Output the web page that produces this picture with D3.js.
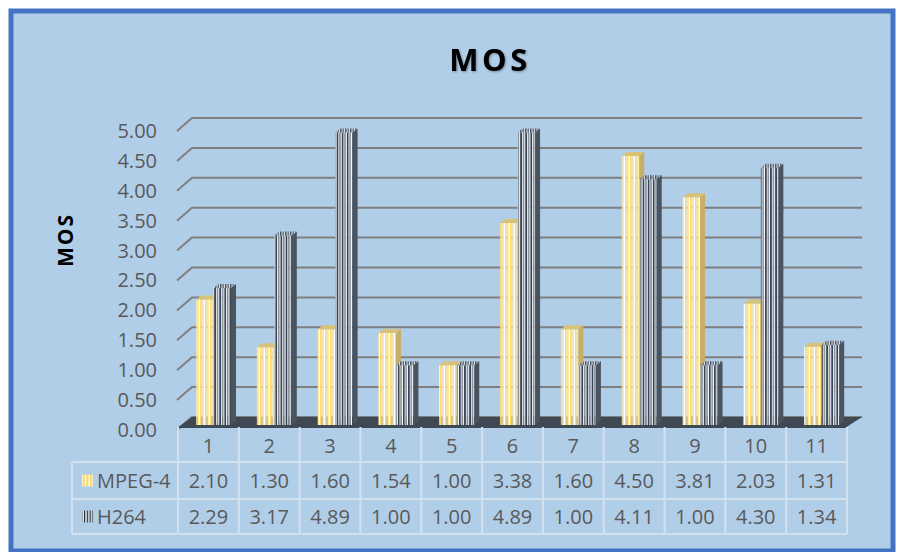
<!DOCTYPE html>
<html>
<head>
<meta charset="utf-8">
<script src="https://cdn.jsdelivr.net/npm/d3@7"></script>
<style>
  body { margin: 0; background: #fff; }
  svg { display: block; }
  text { font-family: "Open Sans", "Liberation Sans", sans-serif; }
</style>
</head>
<body>
<div id="chart"></div>
<script>
var categories = ['1', '2', '3', '4', '5', '6', '7', '8', '9', '10', '11']
var mpeg4 = [2.10, 1.30, 1.60, 1.54, 1.00, 3.38, 1.60, 4.50, 3.81, 2.03, 1.31]
var h264 = [2.29, 3.17, 4.89, 1.00, 1.00, 4.89, 1.00, 4.11, 1.00, 4.30, 1.34]
var yTicks = [0, 0.5, 1, 1.5, 2, 2.5, 3, 3.5, 4, 4.5, 5]
var seriesNames = ['MPEG-4', 'H264']

var W = 898, H = 552
var svg = d3.select('#chart').append('svg').attr('width', W).attr('height', H)
var defs = svg.append('defs')

// striped fills for the bars
function stripes(id, cols, widths) {
  var total = d3.sum(widths)
  var p = defs.append('pattern').attr('id', id)
    .attr('patternUnits', 'userSpaceOnUse').attr('width', total).attr('height', 10)
  var off = 0
  cols.forEach(function(c, i) {
    p.append('rect').attr('x', off).attr('y', 0).attr('width', widths[i]).attr('height', 10).attr('fill', c)
    off += widths[i]
  })
}
stripes('pMpeg', ['#FFDB6E', '#FFF4CC', '#FFE79C', '#FFFFFF'], [1.6, 1, 1.4, 1])
stripes('pH264', ['#394453', '#E9EDF1', '#76818E', '#FFFFFF'], [1.7, 1, 1.4, 1])
stripes('pH264top', ['#4A5462', '#B8C0C8', '#6D7784', '#D5DADF'], [1.6, 1, 1.4, 1])
stripes('pMpegLeg', ['#FFD95E', '#FFF6D8'], [2, 1.6])
stripes('pH264Leg', ['#1E2630', '#E6ECF2'], [1.4, 1.4])

var f = defs.append('filter').attr('id', 'glow').attr('x', '-20%').attr('y', '-20%').attr('width', '140%').attr('height', '140%')
f.append('feDropShadow').attr('dx', 1).attr('dy', 1).attr('stdDeviation', 1.2).attr('flood-color', '#000').attr('flood-opacity', 0.35)

// background + frame
svg.append('rect').attr('x', 11).attr('y', 11).attr('width', 882).attr('height', 540)
  .attr('fill', '#B1CEE9').attr('stroke', '#4472C4').attr('stroke-width', 5)

var x = d3.scaleBand().domain(categories).range([178, 847])
var y = d3.scaleLinear().domain([0, 5]).range([425, 126])
var dx = 5, dy = -4, depthX = 15, depthY = -13
var barW = 17.5

// gridlines on back wall
var grid = svg.append('g')
yTicks.forEach(function(v) {
  var yf = y(v) + 5
  var yb = yf + depthY
  grid.append('path')
    .attr('d', 'M177,' + yf + 'L' + (177 + depthX) + ',' + yb + 'L862,' + yb)
    .attr('fill', 'none').attr('stroke', '#7F7F7F').attr('stroke-width', 2)
})

// floor
var y0f = y(0) + 3
svg.append('path')
  .attr('d', 'M177,' + y0f + 'L' + (177 + depthX) + ',' + (y0f + depthY + 2) + 'L862,' + (y0f + depthY + 2) + 'L845,' + y0f + 'Z')
  .attr('fill', '#3F4954')

// y axis labels
var yAxisScale = d3.scaleLinear().domain([0, 5]).range([y(0) + 5, y(5) + 5])
var yAxis = svg.append('g').attr('transform', 'translate(177,0)')
  .call(d3.axisLeft(yAxisScale).tickValues(yTicks).tickSize(0).tickPadding(20).tickFormat(d3.format('.2f')))
yAxis.select('.domain').remove()
yAxis.selectAll('text').attr('font-size', 20).attr('fill', '#595959')
  .style('font-family', '"Open Sans", sans-serif')

// bars
function bar(g, x0, v, front, top, side) {
  var yt = y(v), yb = y(0)
  g.append('rect').attr('x', x0).attr('y', yt).attr('width', barW).attr('height', yb - yt).attr('fill', front)
  g.append('path')
    .attr('d', 'M' + x0 + ',' + yt + 'l' + dx + ',' + dy + 'l' + barW + ',0l' + (-dx) + ',' + (-dy) + 'Z')
    .attr('fill', top)
  g.append('path')
    .attr('d', 'M' + (x0 + barW) + ',' + yt + 'l' + dx + ',' + dy + 'L' + (x0 + barW + dx) + ',' + (yb + dy) + 'L' + (x0 + barW) + ',' + yb + 'Z')
    .attr('fill', side)
}
var bars = svg.append('g')
categories.forEach(function(c, i) {
  var x0 = x(c) + 18
  var g = bars.append('g')
  bar(g, x0, mpeg4[i], 'url(#pMpeg)', '#D8C27A', '#C7AF68')
  bar(g, x0 + barW, h264[i], 'url(#pH264)', 'url(#pH264top)', '#4A5461')
})

// data table
var rowTop = 427, r1 = 462, r2 = 499, r3 = 534, legL = 72
var tbl = svg.append('g').attr('stroke', '#D3E1EF').attr('stroke-width', 2).attr('fill', 'none')
tbl.append('path').attr('d', 'M' + legL + ',' + r1 + 'L' + x.range()[1] + ',' + r1)
tbl.append('path').attr('d', 'M' + legL + ',' + r2 + 'L' + x.range()[1] + ',' + r2)
tbl.append('path').attr('d', 'M' + legL + ',' + r3 + 'L' + x.range()[1] + ',' + r3)
tbl.append('path').attr('d', 'M' + legL + ',' + r1 + 'L' + legL + ',' + r3)
categories.forEach(function(c) {
  tbl.append('path').attr('d', 'M' + x(c) + ',' + rowTop + 'L' + x(c) + ',' + r3)
})
tbl.append('path').attr('d', 'M' + x.range()[1] + ',' + rowTop + 'L' + x.range()[1] + ',' + r3)

var xAxis = svg.append('g').attr('transform', 'translate(0,' + rowTop + ')')
  .call(d3.axisBottom(x).tickSize(0).tickPadding(12))
xAxis.select('.domain').remove()
xAxis.selectAll('text').attr('font-size', 20).attr('fill', '#595959')
  .style('font-family', '"Open Sans", sans-serif')

var rows = [mpeg4, h264]
var rowMid = [(r1 + r2) / 2, (r2 + r3) / 2]
rows.forEach(function(vals, ri) {
  svg.append('g').selectAll('text').data(vals).join('text')
    .attr('x', function(d, i) { return x(categories[i]) + x.bandwidth() / 2 })
    .attr('y', rowMid[ri])
    .attr('dy', '0.35em')
    .attr('text-anchor', 'middle')
    .attr('font-size', 20).attr('fill', '#595959')
    .text(d3.format('.2f'))
  svg.append('rect').attr('x', 82).attr('y', rowMid[ri] - 6).attr('width', 11).attr('height', 12)
    .attr('fill', ri == 0 ? 'url(#pMpegLeg)' : 'url(#pH264Leg)')
  svg.append('text').attr('x', 97).attr('y', rowMid[ri]).attr('dy', '0.35em')
    .attr('font-size', 20).attr('fill', '#595959').text(seriesNames[ri])
})

// titles
svg.append('text').attr('x', 490).attr('y', 71).attr('text-anchor', 'middle')
  .attr('font-size', 31).attr('font-weight', 'bold').attr('letter-spacing', 3.5)
  .attr('filter', 'url(#glow)').text('MOS')
svg.append('text').attr('transform', 'translate(73,240) rotate(-90)').attr('text-anchor', 'middle')
  .attr('font-size', 21).attr('font-weight', 'bold').attr('letter-spacing', 2)
  .text('MOS')
</script>
</body>
</html>
